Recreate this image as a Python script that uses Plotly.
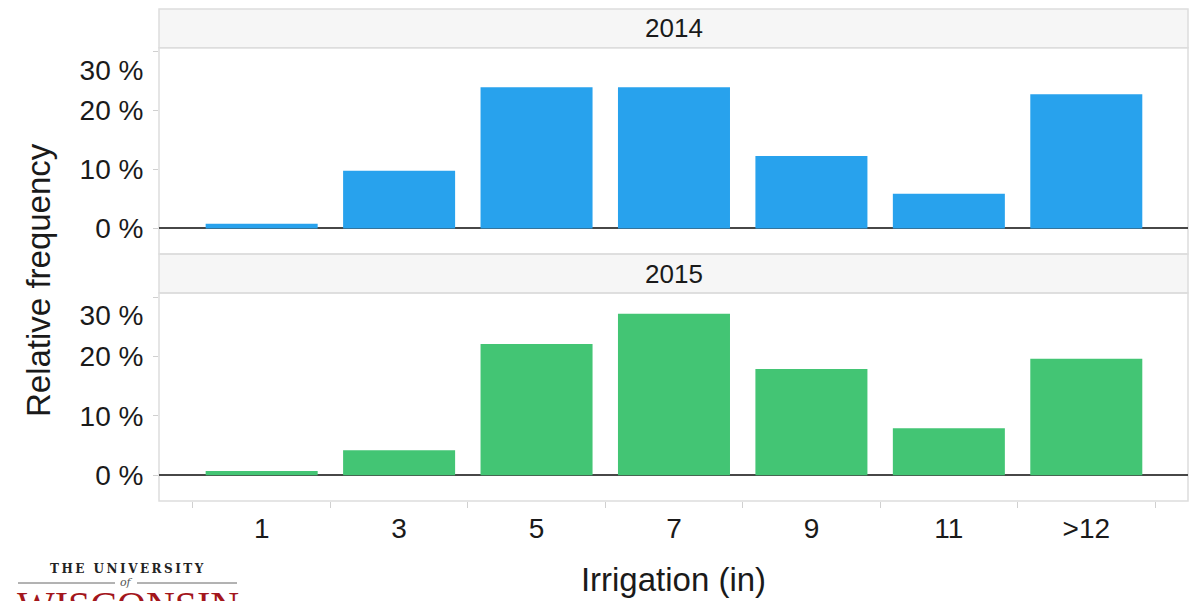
import plotly.graph_objects as go

categories = ["1", "3", "5", "7", "9", "11", ">12"]
years = ["2014", "2015"]
freq_2014 = [0.8, 9.8, 24.0, 24.0, 12.3, 5.9, 22.8]
freq_2015 = [0.7, 4.2, 22.1, 27.2, 17.9, 7.9, 19.6]
ytick_vals = [0, 10, 20, 30]
ytick_text = ["0 %", "10 %", "20 %", "<br>30 %"]

colors = ["#28A2ED", "#43C574"]
FONT = "Liberation Sans, Arial, sans-serif"

OFF = 8  # page body margin
W, H = 1203, 601
ML, MR, MT, MB = 159 - OFF, 23, 9 - OFF, 108
PW, PH = W - ML - MR, H - MT - MB


def py(pix):
    # pix: screen pixel y
    return (H - MB - (pix - OFF)) / PH


def px(pix):
    return ((pix - OFF) - ML) / PW


fig = go.Figure()
fig.add_trace(go.Bar(x=categories, y=freq_2014, marker_color=colors[0], marker_line_width=0,
                     xaxis="x", yaxis="y", name=years[0], showlegend=False))
fig.add_trace(go.Bar(x=categories, y=freq_2015, marker_color=colors[1], marker_line_width=0,
                     xaxis="x2", yaxis="y2", name=years[1], showlegend=False))

xr = [-0.747, 6.74]
yr = [-4.35, 30.7]
tickfont = dict(family=FONT, size=28, color="#1a1a1a")

common_x = dict(type="category", range=xr, showgrid=False, zeroline=False, showline=False,
                tickson="boundaries", ticks="outside", ticklen=6, tickcolor="#d0d0d0", tickwidth=1.3,
                tickfont=tickfont, ticklabelstandoff=8)
common_y = dict(range=yr, tickvals=ytick_vals, ticktext=ytick_text, showgrid=False,
                zeroline=True, zerolinecolor="#474747", zerolinewidth=1.7,
                showline=False, ticks="outside", ticklen=5, tickcolor="#d0d0d0", tickwidth=1.3,
                tickfont=tickfont, ticklabelstandoff=4)

fig.update_layout(
    width=W, height=H,
    margin=dict(l=ML, r=MR, t=MT, b=MB),
    paper_bgcolor="white", plot_bgcolor="white",
    bargap=0.185,
    font=dict(family=FONT, color="#1a1a1a"),
    xaxis=dict(common_x, domain=[0, 1], anchor="y", showticklabels=False, ticks=""),
    yaxis=dict(common_y, domain=[py(254), py(47.7)], anchor="x"),
    xaxis2=dict(common_x, domain=[0, 1], anchor="y2",
                title=dict(text="Irrigation (in)", font=dict(family=FONT, size=33, color="#1a1a1a"),
                           standoff=24)),
    yaxis2=dict(common_y, domain=[0, py(293)], anchor="x2"),
)

border = "#dddddd"
shapes = []
for top, bot in [(9, 47.7), (254, 293)]:
    shapes.append(dict(type="rect", xref="paper", yref="paper", x0=0, x1=1,
                       y0=py(bot), y1=py(top), fillcolor="#f6f6f6",
                       line=dict(color=border, width=1.5), layer="below"))
for top, bot in [(47.7, 254), (293, 501)]:
    shapes.append(dict(type="rect", xref="paper", yref="paper", x0=0, x1=1,
                       y0=py(bot), y1=py(top), fillcolor="rgba(0,0,0,0)",
                       line=dict(color=border, width=1.5), layer="below"))
# logo rules
shapes.append(dict(type="line", xref="paper", yref="paper", x0=px(18), x1=px(115),
                   y0=py(583), y1=py(583), line=dict(color="#666", width=1)))
shapes.append(dict(type="line", xref="paper", yref="paper", x0=px(137), x1=px(237),
                   y0=py(583), y1=py(583), line=dict(color="#666", width=1)))
fig.update_layout(shapes=shapes)

annotations = []
for yr_lbl, (top, bot) in zip(years, [(9, 47.7), (254, 293)]):
    annotations.append(dict(text=yr_lbl, xref="paper", yref="paper", x=0.5,
                            y=(py(top) + py(bot)) / 2, showarrow=False,
                            font=dict(family=FONT, size=26, color="#1a1a1a"),
                            xanchor="center", yanchor="middle"))
annotations.append(dict(text="Relative frequency", xref="paper", yref="paper",
                        x=px(38), y=py(280), textangle=-90, showarrow=False,
                        font=dict(family=FONT, size=33, color="#1a1a1a"),
                        xanchor="center", yanchor="middle"))
annotations.append(dict(text='<b><span style="letter-spacing:2.5px">THE UNIVERSITY</span></b>',
                        xref="paper", yref="paper", x=px(128), y=py(569), showarrow=False,
                        font=dict(family="DejaVu Serif, serif", size=12, color="#222"),
                        xanchor="center", yanchor="middle"))
annotations.append(dict(text="<i>of</i>", xref="paper", yref="paper",
                        x=px(126), y=py(582), showarrow=False,
                        font=dict(family="DejaVu Serif, serif", size=11, color="#555"),
                        xanchor="center", yanchor="middle"))
annotations.append(dict(text="WISCONSIN", xref="paper", yref="paper",
                        x=px(128), y=py(581), showarrow=False,
                        font=dict(family="Liberation Serif, serif", size=40, color="#a3161c"),
                        xanchor="center", yanchor="top"))
fig.update_layout(annotations=annotations)

fig.write_html("out.html")
